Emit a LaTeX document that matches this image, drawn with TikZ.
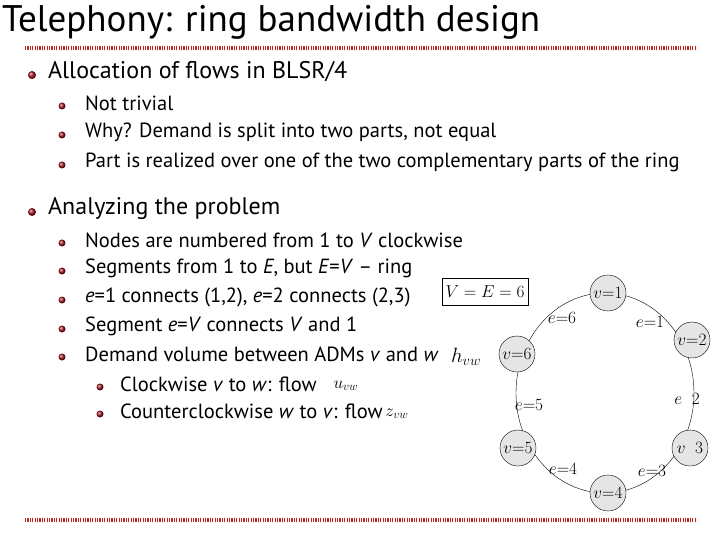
\documentclass[tikz,border=0pt]{standalone}
\usepackage{fontspec}
\setmainfont{PT Sans}
\usetikzlibrary{shapes.geometric}
\definecolor{bul}{RGB}{160,20,30}
\definecolor{rule}{RGB}{190,40,40}
\tikzset{
  b1/.style={circle,inner sep=0pt,minimum size=8bp,shading=ball,ball color=bul},
  b2/.style={circle,inner sep=0pt,minimum size=7bp,shading=ball,ball color=bul},
  t1/.style={anchor=west,font=\fontsize{24bp}{28bp}\selectfont,inner sep=0pt},
  t2/.style={anchor=west,font=\fontsize{20.5bp}{24bp}\selectfont,inner sep=0pt},
  rn/.style={circle,draw,fill=gray!20,minimum size=36bp,inner sep=0pt,font=\fontsize{16bp}{18bp}\rmfamily},
  el/.style={font=\fontsize{16bp}{18bp}\rmfamily},
  rl/.style={draw=rule,line width=4bp,dash pattern=on 1.2bp off 1.2bp}
}
\begin{document}
\begin{tikzpicture}[x=1bp,y=-1bp]
\useasboundingbox (0,0) rectangle (720,540);
\node[anchor=west,inner sep=0pt,font=\fontsize{37bp}{40bp}\selectfont] (title) at (2,22) {Telephony: ring bandwidth design};
\coordinate (r1a) at (25,48); \coordinate (r1b) at (697,48);
\draw[rl] (r1a) -- (r1b);
\coordinate (r2a) at (25,520); \coordinate (r2b) at (697,520);
\draw[rl] (r2a) -- (r2b);
% level 1
\node[b1] (ba) at (32,75) {}; \node[t1] (ta) at (48,72) {Allocation of flows in BLSR/4};
\node[b1] (bb) at (32,212) {}; \node[t1] (tb) at (48,209) {Analyzing the problem};
% level 2
\node[b2] (b1) at (62,106) {}; \node[t2] (l1) at (85,103) {Not trivial};
\node[b2] (b2) at (62,135) {}; \node[t2] (l2) at (85,132) {Why? Demand is split into two parts, not equal};
\node[b2] (b3) at (62,165) {}; \node[t2] (l3) at (85,162) {Part is realized over one of the two complementary parts of the ring};
\node[b2] (b4) at (62,243) {}; \node[t2] (l4) at (85,240) {Nodes are numbered from 1 to \emph{V} clockwise};
\node[b2] (b5) at (62,271) {}; \node[t2] (l5) at (85,268) {Segments from 1 to \emph{E}, but \emph{E}=\emph{V} -- ring};
\node[b2] (b6) at (62,300) {}; \node[t2] (l6) at (85,297) {\emph{e}=1 connects (1,2), \emph{e}=2 connects (2,3)};
\node[b2] (b7) at (62,329) {}; \node[t2] (l7) at (85,326) {Segment \emph{e}=\emph{V} connects \emph{V} and 1};
\node[b2] (b8) at (62,357) {}; \node[t2] (l8) at (85,354) {Demand volume between ADMs \emph{v} and \emph{w}};
\node[b2] (b9) at (100,387) {}; \node[t2] (l9) at (120,384) {Clockwise \emph{v} to \emph{w}: flow};
\node[b2] (b10) at (100,414) {}; \node[t2] (l10) at (120,411) {Counterclockwise \emph{w} to \emph{v}: flow};
\node[font=\fontsize{22bp}{24bp}\rmfamily] (h) at (466,357) {$h_{vw}$};
\node[font=\fontsize{18bp}{20bp}\rmfamily] (u) at (346,386) {$u_{vw}$};
\node[font=\fontsize{18bp}{20bp}\rmfamily] (z) at (397,414) {$z_{vw}$};
\node[draw,minimum width=74bp,minimum height=27bp,font=\fontsize{16bp}{18bp}\rmfamily] (box) at (485,292) {$V = E = 6$};
% ring
\draw (605,393) ellipse [x radius=89, y radius=100];
\node[rn] (v1) at (608,293) {$v{=}1$};
\node[rn] (v2) at (692,340) {$v{=}2$};
\node[rn] (v3) at (690,448) {$v\;\;3$};
\node[rn] (v4) at (608,493) {$v{=}4$};
\node[rn] (v5) at (518,448) {$v{=}5$};
\node[rn] (v6) at (517,354) {$v{=}6$};
\node[el] (e6) at (562,318) {$e{=}6$};
\node[el] (e1) at (650,322) {$e{=}1$};
\node[el] (e2) at (687,399) {$e\;\;2$};
\node[el] (e3) at (652,471) {$e{=}3$};
\node[el] (e4) at (563,469) {$e{=}4$};
\node[el] (e5) at (529,405) {$e{=}5$};
\end{tikzpicture}
\end{document}
